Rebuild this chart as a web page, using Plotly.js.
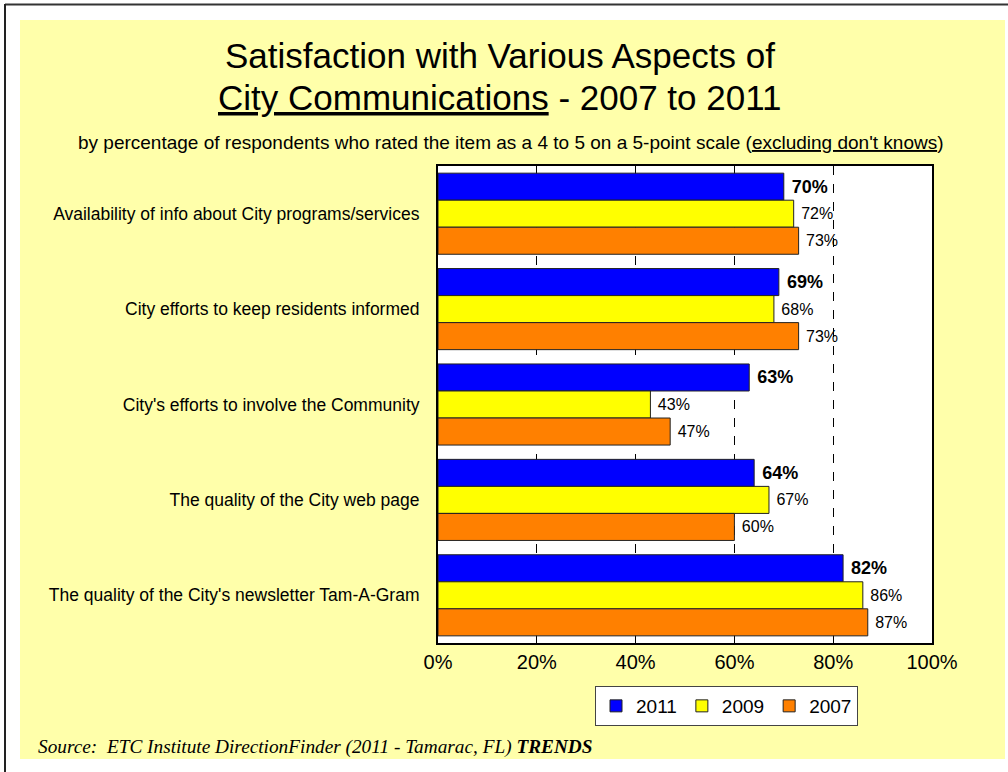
<!DOCTYPE html>
<html>
<head>
<meta charset="utf-8">
<script src="https://cdn.plot.ly/plotly-3.0.1.min.js"></script>
<style>
  html, body { margin: 0; padding: 0; background: #ffffff; }
  #chart { width: 1008px; height: 772px; }
</style>
</head>
<body>
<div id="chart"></div>
<script>
// ---- Data ----
const categories = [
  "Availability of info about City programs/services",
  "City efforts to keep residents informed",
  "City's efforts to involve the Community",
  "The quality of the City web page",
  "The quality of the City's newsletter Tam-A-Gram"
];
const seriesNames = ["2011", "2009", "2007"];
const values2011 = [70, 69, 63, 64, 82];
const values2009 = [72, 68, 43, 67, 86];
const values2007 = [73, 73, 47, 60, 87];
const xTickValues = [0, 20, 40, 60, 80, 100];
const xTickLabels = ["0%", "20%", "40%", "60%", "80%", "100%"];

// ---- Layout helpers (plot area pixel box -> paper coords) ----
const W = 1008, H = 772;
const L = 438, R = 932, T = 166, B = 643;
const px = x => (x - L) / (R - L);
const py = y => (B - y) / (B - T);

const FONT = "Liberation Sans, Arial, sans-serif";

function barTrace(name, vals, color, bold) {
  return {
    type: "bar",
    orientation: "h",
    name: name,
    y: categories,
    x: vals,
    marker: { color: color, line: { color: "#222222", width: 1 } },
    text: vals.map(v => "\u00A0" + (bold ? "<b>" + v + "%</b>" : v + "%")),
    textposition: "outside",
    constraintext: "none",
    textfont: { family: FONT, size: bold ? 18 : 16, color: "#000000" },
    cliponaxis: false,
    hoverinfo: "x+y+name"
  };
}

const data = [
  barTrace(seriesNames[0], values2011, "#0000FF", true),
  barTrace(seriesNames[1], values2009, "#FFFF00", false),
  barTrace(seriesNames[2], values2007, "#FF8000", false)
];

const layout = {
  width: W, height: H,
  margin: { l: L, r: W - R, t: T, b: H - B, pad: 0 },
  paper_bgcolor: "#ffffff",
  plot_bgcolor: "#ffffff",
  font: { family: FONT, color: "#000000" },
  barmode: "group",
  bargap: 0.15,
  bargroupgap: 0,
  showlegend: true,
  legend: {
    orientation: "h",
    traceorder: "normal",
    x: px(726.5), xanchor: "center",
    y: py(686), yanchor: "top",
    bgcolor: "#ffffff",
    bordercolor: "#444444",
    borderwidth: 1,
    font: { family: FONT, size: 19, color: "#000000" },
    itemwidth: 30,
    tracegroupgap: 0
  },
  xaxis: {
    range: [0, 100],
    tickvals: xTickValues,
    ticktext: xTickLabels,
    ticks: "",
    tickfont: { family: FONT, size: 20, color: "#000000" },
    showgrid: true,
    gridcolor: "#000000",
    gridwidth: 1,
    griddash: "dash",
    zeroline: false,
    showline: true,
    linecolor: "#000000",
    linewidth: 2,
    mirror: true,
    fixedrange: true
  },
  yaxis: {
    autorange: "reversed",
    type: "category",
    ticks: "",
    tickfont: { family: FONT, size: 17.5, color: "#000000" },
    ticklabelstandoff: 13,
    showgrid: false,
    zeroline: false,
    showline: true,
    linecolor: "#000000",
    linewidth: 2,
    mirror: true,
    fixedrange: true
  },
  shapes: [
    // light yellow panel
    { type: "rect", xref: "paper", yref: "paper", layer: "below",
      x0: px(20), x1: px(1005), y0: py(759), y1: py(20),
      fillcolor: "#FFFFAA", line: { width: 0 } },
    // white plot area over the panel
    { type: "rect", xref: "paper", yref: "paper", layer: "below",
      x0: 0, x1: 1, y0: 0, y1: 1,
      fillcolor: "#ffffff", line: { width: 0 } },
    // outer frame lines (top and left)
    { type: "line", xref: "paper", yref: "paper", layer: "above",
      x0: px(5), x1: px(1008), y0: py(4.5), y1: py(4.5),
      line: { color: "#333333", width: 2 } },
    { type: "line", xref: "paper", yref: "paper", layer: "above",
      x0: px(5), x1: px(5), y0: py(4), y1: py(772),
      line: { color: "#222222", width: 2 } }
  ],
  annotations: [
    { xref: "paper", yref: "paper", x: px(500), y: py(56),
      xanchor: "center", yanchor: "middle", showarrow: false,
      text: "Satisfaction with Various Aspects of",
      font: { family: FONT, size: 35, color: "#000000" } },
    { xref: "paper", yref: "paper", x: px(500), y: py(97),
      xanchor: "center", yanchor: "middle", showarrow: false,
      text: "<span style=\"text-decoration:underline\">City Communications</span> - 2007 to 2011",
      font: { family: FONT, size: 35, color: "#000000" } },
    { xref: "paper", yref: "paper", x: px(511), y: py(142),
      xanchor: "center", yanchor: "middle", showarrow: false,
      text: "by percentage of respondents who rated the item as a 4 to 5 on a 5-point scale (<span style=\"text-decoration:underline\">excluding don't knows</span>)",
      font: { family: FONT, size: 19, color: "#000000" } },
    { xref: "paper", yref: "paper", x: px(36), y: py(747),
      xanchor: "left", yanchor: "middle", showarrow: false,
      text: "<i>Source:  ETC Institute DirectionFinder (2011 - Tamarac, FL) <b>TRENDS</b></i>",
      font: { family: "Liberation Serif, Times New Roman, serif", size: 19.3, color: "#000000" } }
  ]
};

Plotly.newPlot("chart", data, layout, { displayModeBar: false, staticPlot: true });
</script>
</body>
</html>
